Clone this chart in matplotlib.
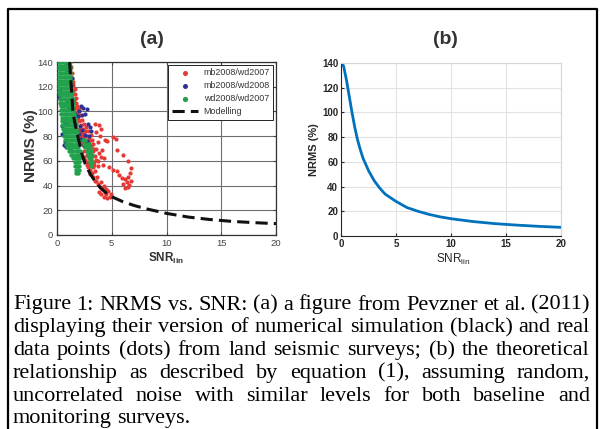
import matplotlib
matplotlib.use("Agg")
import matplotlib.pyplot as plt
from matplotlib.lines import Line2D

plt.rcParams['font.family'] = ['Liberation Sans', 'DejaVu Sans']
plt.rcParams['mathtext.fontset'] = 'custom'
plt.rcParams['mathtext.rm'] = 'Liberation Sans'
plt.rcParams['mathtext.bf'] = 'Liberation Sans:bold'
plt.rcParams['mathtext.it'] = 'Liberation Sans:italic'

# ---- (a) Pevzner et al. scatter ----
red_x = [1.2, 1.3, 1.35, 1.4, 1.45, 1.5, 1.4, 1.6, 1.55, 1.7, 1.65, 1.8, 1.75, 1.95,
         1.9, 2.1, 2.05, 2.3, 2.2, 2.5, 2.4, 2.65, 2.2, 2.5, 2.8, 3.1, 2.35, 2.6, 2.9, 3.2,
         2.3, 2.55, 2.8, 3.05, 3.3, 2.45, 2.7, 3.0, 3.25, 3.45, 2.6, 2.85, 3.1, 3.35, 3.55,
         2.8, 3.05, 3.3, 3.5, 3.7, 3.0, 3.25, 3.45, 3.65,
         1.3, 1.5, 1.7, 1.9, 2.0, 2.15, 2.35, 2.6, 2.75, 2.95, 3.15, 3.4, 2.15, 2.45, 2.7,
         2.95, 3.2, 3.4, 2.5, 2.75, 3.0, 3.2, 1.85, 2.0, 1.6, 1.5,
         3.5, 3.8, 4.05, 3.6, 3.9, 4.4, 4.6, 3.7, 3.6, 3.85, 3.75, 4.0, 4.1, 4.3, 4.2,
         3.75, 3.95, 4.15, 3.8, 4.0, 4.3, 4.55, 4.8, 4.9, 4.7, 4.45, 4.25, 4.5, 4.05, 3.6, 4.35,
         5.1, 5.4, 5.5, 6.0, 6.45, 6.8, 6.7, 6.5, 6.2, 5.15, 5.45, 5.7, 5.9, 6.6, 6.2,
         6.35, 6.45, 6.05, 6.75, 4.75]
red_y = [140, 136, 131, 126, 121, 117, 113, 114, 109, 107, 103, 104, 99, 101,
         96, 97, 92, 93, 89, 90, 86, 87, 83, 82, 84, 81, 79, 77, 78, 77,
         74, 72, 70, 73, 74, 68, 65, 66, 68, 64, 61, 59, 61, 59, 61,
         55, 53, 55, 52, 56, 49, 47, 44, 47,
         128, 124, 111, 94, 86, 80, 82, 84, 80, 75, 71, 70, 76, 75, 68,
         63, 64, 57, 63, 57, 57, 50, 98, 102, 118, 106,
         90, 89, 86, 83, 80, 77, 76, 75, 70, 66, 60, 63, 69, 62, 57,
         41, 39, 37, 35, 33, 31, 30, 31, 33.5, 35.5, 37, 39.5, 33, 43, 44, 34.5,
         79, 78, 69, 65, 60, 54, 50, 47, 45, 53, 52, 48.5, 46, 40.5, 38,
         42.5, 39, 41, 44, 55]

blue_x = [0.85, 1.0, 0.7, 1.1, 0.9, 0.12, 0.18, 0.25, 0.3, 0.6, 0.75, 0.9,
          0.6, 0.8, 1.0, 1.2, 0.7, 1.5, 1.8, 2.0, 2.3, 2.6, 1.7, 2.1,
          2.0, 2.2, 2.4, 2.7, 2.6, 2.3, 1.9, 2.8, 3.0, 3.1, 2.9, 2.7, 2.9, 3.0, 2.5, 2.2,
          1.3, 1.5, 1.25, 1.35, 1.6, 1.1, 0.9, 0.5, 0.45]
blue_y = [140, 138, 137, 135, 133, 115, 112, 117, 110, 93, 91, 90,
          73, 71, 72, 70, 75, 86, 84, 82, 85, 81, 90, 88,
          100, 104, 103, 102, 98, 97, 96, 90, 87, 84, 80, 76, 72, 68, 72, 78,
          106, 110, 121, 127, 98, 102, 108, 82, 88]

green_rows_y = [140, 137, 134, 131, 128, 125, 122, 119, 116, 113, 110, 107, 104, 101,
                98, 95, 92, 89, 86, 83, 80, 77, 74, 71, 68, 65, 62, 59, 56, 53, 50]
green_rows_x = [
    [0.2, 0.4, 0.6, 0.8, 1.0, 1.15],
    [0.15, 0.35, 0.55, 0.75, 0.95, 1.15],
    [0.2, 0.4, 0.6, 0.8, 1.0, 1.2],
    [0.15, 0.35, 0.55, 0.75, 0.95, 1.2],
    [0.2, 0.4, 0.6, 0.8, 1.0, 1.2],
    [0.15, 0.35, 0.55, 0.75, 0.95, 1.15, 1.3],
    [0.2, 0.4, 0.6, 0.8, 1.0, 1.2],
    [0.15, 0.35, 0.55, 0.75, 0.95, 1.15, 1.3],
    [0.2, 0.4, 0.6, 0.8, 1.0, 1.2, 1.35],
    [0.25, 0.45, 0.65, 0.85, 1.05, 1.25],
    [0.3, 0.5, 0.7, 0.9, 1.1, 1.3, 1.45],
    [0.3, 0.5, 0.7, 0.9, 1.1, 1.3, 1.45],
    [0.35, 0.55, 0.75, 0.95, 1.15, 1.35, 1.5],
    [0.35, 0.55, 0.75, 0.95, 1.15, 1.35, 1.5],
    [0.4, 0.6, 0.8, 1.0, 1.2, 1.4, 1.55],
    [0.45, 0.65, 0.85, 1.05, 1.25, 1.45, 1.6],
    [0.5, 0.7, 0.9, 1.1, 1.3, 1.5, 1.65],
    [0.5, 0.7, 0.9, 1.1, 1.3, 1.5, 1.7],
    [0.55, 0.75, 0.95, 1.15, 1.35, 1.55, 1.75],
    [0.6, 0.8, 1.0, 1.2, 1.4, 1.6, 1.8],
    [0.65, 0.85, 1.05, 1.25, 1.45, 1.65, 1.85],
    [0.7, 0.9, 1.1, 1.3, 1.5, 1.7, 1.9, 2.4, 2.6],
    [0.8, 1.0, 1.2, 1.4, 1.6, 1.8, 2.0, 2.5, 2.7, 2.9],
    [0.9, 1.1, 1.3, 1.5, 1.7, 1.9, 2.6, 2.8, 3.0],
    [1.1, 1.3, 1.5, 1.7, 1.9, 2.1, 2.7, 2.9, 3.1],
    [1.3, 1.5, 1.7, 1.9, 2.1, 2.8, 3.0, 3.2],
    [1.5, 1.7, 1.9, 2.1, 2.9, 3.1],
    [1.6, 1.8, 2.0, 3.0, 3.2],
    [1.6, 1.8, 2.0, 3.1],
    [1.7, 1.9, 2.05],
    [1.75, 1.95],
]
green_x = [x for row in green_rows_x for x in row]
green_y = [y for y, row in zip(green_rows_y, green_rows_x) for _ in row]

model_x = [1.15, 1.3, 1.45, 1.6, 1.8, 2.0, 2.3, 2.6, 3.0, 3.5, 4, 4.5, 5, 6, 7, 8,
           10, 12, 14, 16, 18, 20]
model_y = [140, 120, 100, 92, 84, 76, 65, 57, 50, 43, 38, 34, 31, 27, 24, 21.5,
           17.5, 14.5, 12.5, 11, 10, 9.2]

# ---- (b) theoretical curve ----
theo_x = [0.1, 0.25, 0.5, 0.75, 1, 1.25, 1.5, 1.75, 2, 2.5, 3, 3.5, 4, 4.5, 5,
          6, 7, 8, 9, 10, 12, 14, 16, 18, 20]
theo_y = [140, 137, 126, 113, 100, 88, 78, 70, 63, 53, 45, 39, 34, 31, 28,
          23, 20, 17.5, 15.5, 14, 11.7, 10, 8.8, 7.8, 7]

xticks = [0, 5, 10, 15, 20]
yticks = [0, 20, 40, 60, 80, 100, 120, 140]

caption_lines = [
    "Figure 1: NRMS vs. SNR: (a) a figure from Pevzner et al. (2011)",
    "displaying their version of numerical simulation (black) and real",
    "data points (dots) from land seismic surveys; (b) the theoretical",
    "relationship as described by equation (1), assuming random,",
    "uncorrelated noise with similar levels for both baseline and",
    "monitoring surveys.",
]

W, H = 600, 429
fig = plt.figure(figsize=(6, 4.29), dpi=100)


def box(l, t, r, b):
    return [l / W, 1 - b / H, (r - l) / W, (b - t) / H]


def px(x, y):
    return x / W, 1 - y / H


# ---------- panel (a) ----------
ax1 = fig.add_axes(box(57, 62, 276, 235))
ax1.scatter(red_x, red_y, s=9, color='#e53935', linewidths=0, label='mb2008/wd2007', zorder=3)
ax1.scatter(blue_x, blue_y, s=9, color='#2e3192', linewidths=0, label='mb2008/wd2008', zorder=3)
ax1.scatter(green_x, green_y, s=10, color='#23a24d', linewidths=0, label='wd2008/wd2007', zorder=3)
ax1.plot(model_x, model_y, color='#111111', lw=2.2, dashes=(4, 2), label='Modelling', zorder=4)
ax1.set_xlim(0, 20)
ax1.set_ylim(0, 140)
ax1.set_xticks(xticks)
ax1.set_yticks(yticks)
ax1.grid(color='#6e6e6e', lw=0.8)
ax1.set_axisbelow(True)
ax1.tick_params(direction='in', length=2.5, labelsize=6.8, labelcolor='#444444',
                color='#444444', top=True, right=True, pad=3)
for s in ax1.spines.values():
    s.set_color('#333333')
    s.set_linewidth(0.9)
leg = ax1.legend(loc='upper right', fontsize=6.4, frameon=True, fancybox=False,
                 edgecolor='#222222', framealpha=1, borderaxespad=0.3, handlelength=3,
                 scatterpoints=1, labelspacing=0.45, borderpad=0.4, handletextpad=0.6,
                 markerscale=1.2)
leg.get_frame().set_linewidth(0.7)
for t in leg.get_texts():
    t.set_color('#333333')

fig.text(*px(152, 40), "(a)", fontsize=14, fontweight='bold', color='#333333',
         ha='center', va='center')
fig.text(*px(31, 146), "NRMS (%)", fontsize=11, fontweight='bold', color='#333333',
         rotation=90, ha='center', va='center')
fig.text(*px(166, 258), r"$\mathbf{SNR}_{\mathbf{lin}}$", fontsize=8.5, color='#333333',
         ha='center', va='center')

# ---------- panel (b) ----------
ax2 = fig.add_axes(box(341, 63, 561, 236))
ax2.plot(theo_x, theo_y, color='#0072BD', lw=2)
ax2.set_xlim(0, 20)
ax2.set_ylim(0, 140)
ax2.set_xticks(xticks)
ax2.set_yticks(yticks)
ax2.grid(color='#e2e2e2', lw=0.8)
ax2.set_axisbelow(True)
ax2.tick_params(direction='in', length=2, labelsize=7, labelcolor='#262626',
                color='#262626', pad=2)
for lab in ax2.get_xticklabels() + ax2.get_yticklabels():
    lab.set_fontweight('bold')
for side in ['left', 'bottom']:
    ax2.spines[side].set_color('#262626')
    ax2.spines[side].set_linewidth(0.8)
for side in ['top', 'right']:
    ax2.spines[side].set_color('#d6d6d6')
    ax2.spines[side].set_linewidth(0.8)

fig.text(*px(445, 40), "(b)", fontsize=14, fontweight='bold', color='#333333',
         ha='center', va='center')
fig.text(*px(314, 150), "NRMS (%)", fontsize=8, fontweight='bold', color='#262626',
         rotation=90, ha='center', va='center')
fig.text(*px(453, 259), r"SNR$_{\mathrm{lin}}$", fontsize=8.5, color='#262626',
         ha='center', va='center')

# ---------- caption (justified) ----------
renderer = fig.canvas.get_renderer()
cap_left, cap_right = 13, 590
base0, step = 309.5, 22.8
for i, line in enumerate(caption_lines):
    words = line.split(' ')
    yb = base0 + i * step
    texts = [fig.text(0, 1 - yb / H, w, fontsize=16, family='Liberation Serif',
                      color='black', va='baseline', ha='left') for w in words]
    widths = [t.get_window_extent(renderer).width for t in texts]
    if i < len(caption_lines) - 1:
        gap = (cap_right - cap_left - sum(widths)) / (len(words) - 1)
    else:
        gap = texts[0].get_fontsize() * 100 / 72 * 0.25
    x = cap_left
    for t, w in zip(texts, widths):
        t.set_x(x / W)
        x += w + gap

# ---------- border ----------
fig.add_artist(Line2D([8 / W, 8 / W, 597 / W, 597 / W], [0, 1 - 9 / H, 1 - 9 / H, 0],
                      color='black', lw=1.6, transform=fig.transFigure))

fig.savefig('out.png', dpi=100)
